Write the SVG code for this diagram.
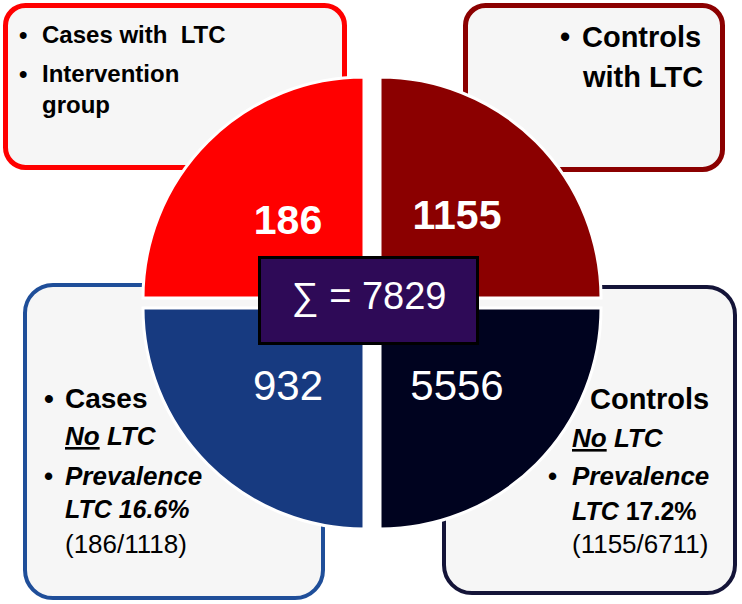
<svg xmlns="http://www.w3.org/2000/svg" width="742" height="604" viewBox="0 0 742 604">
<defs>
<style>
.box{fill:#f6f6f6;}
.t{font-family:"Liberation Sans",Arial,sans-serif;fill:#000;}
.b{font-weight:bold;}
.bi{font-weight:bold;font-style:italic;}
.num{font-family:"Liberation Sans",Arial,sans-serif;fill:#fff;text-anchor:middle;}
.q{stroke:#fff;stroke-width:3;}
</style>
</defs>
<g id="box-cases-ltc">
<rect class="box" x="5.5" y="5.5" width="339" height="162" rx="20" stroke="#ff0000" stroke-width="5"/>
<text class="t b" x="19" y="43" font-size="24">•</text>
<text class="t b" x="42" y="43" font-size="24" xml:space="preserve">Cases with  LTC</text>
<text class="t b" x="19" y="82" font-size="24">•</text>
<text class="t b" x="42" y="82" font-size="24">Intervention</text>
<text class="t b" x="42" y="113" font-size="24">group</text>
</g>
<g id="box-controls-ltc">
<rect class="box" x="465.5" y="5.5" width="257" height="164" rx="20" stroke="#8b0000" stroke-width="5"/>
<text class="t b" x="560" y="47" font-size="29">•</text>
<text class="t b" x="582" y="47" font-size="29">Controls</text>
<text class="t b" x="583" y="87" font-size="29">with LTC</text>
</g>
<g id="box-cases-noltc">
<rect class="box" x="25" y="285" width="298" height="313" rx="28" stroke="#1f4e99" stroke-width="4"/>
<text class="t b" x="44" y="408" font-size="28">•</text>
<text class="t b" x="65" y="408" font-size="28">Cases</text>
<text class="t bi" x="65" y="445" font-size="26"><tspan text-decoration="underline">No</tspan> LTC</text>
<text class="t b" x="44" y="485" font-size="26">•</text>
<text class="t bi" x="65" y="485" font-size="26">Prevalence</text>
<text class="t bi" x="65" y="518" font-size="25">LTC 16.6%</text>
<text class="t" x="65" y="553" font-size="26">(186/1118)</text>
</g>
<g id="box-controls-noltc">
<rect class="box" x="444" y="287" width="291" height="306" rx="28" stroke="#141438" stroke-width="4"/>
<text class="t b" x="590" y="409" font-size="29">Controls</text>
<text class="t bi" x="572" y="447" font-size="26"><tspan text-decoration="underline">No</tspan> LTC</text>
<text class="t b" x="548" y="485" font-size="26">•</text>
<text class="t bi" x="572" y="485" font-size="26">Prevalence</text>
<text class="t bi" x="572" y="520" font-size="25">LTC <tspan font-style="normal">17.2%</tspan></text>
<text class="t" x="572" y="553" font-size="26">(1155/6711)</text>
</g>
<g id="quadrants">
<g id="q-cases-ltc">
<path class="q" d="M364,298 L143,298 A221,221 0 0 1 364,77 Z" fill="#ff0000"/>
<text class="num b" x="288" y="234" font-size="41">186</text>
</g>
<g id="q-controls-ltc">
<path class="q" d="M380,298 L380,77 A221,221 0 0 1 601,298 Z" fill="#8b0000"/>
<text class="num b" x="457" y="229" font-size="41">1155</text>
</g>
<g id="q-cases-noltc">
<path class="q" d="M364,308 L364,529 A221,221 0 0 1 143,308 Z" fill="#173a80"/>
<text class="num" x="288" y="400" font-size="42">932</text>
</g>
<g id="q-controls-noltc">
<path class="q" d="M380,308 L601,308 A221,221 0 0 1 380,529 Z" fill="#00031f"/>
<text class="num" x="457" y="400" font-size="42">5556</text>
</g>
</g>
<g id="total">
<rect x="259.5" y="257.5" width="218" height="86" fill="#2e0a57" stroke="#000" stroke-width="3"/>
<text class="num" x="369" y="309" font-size="38" fill="#f3eaff">∑ = 7829</text>
</g>
<g id="connectors"></g>
</svg>
